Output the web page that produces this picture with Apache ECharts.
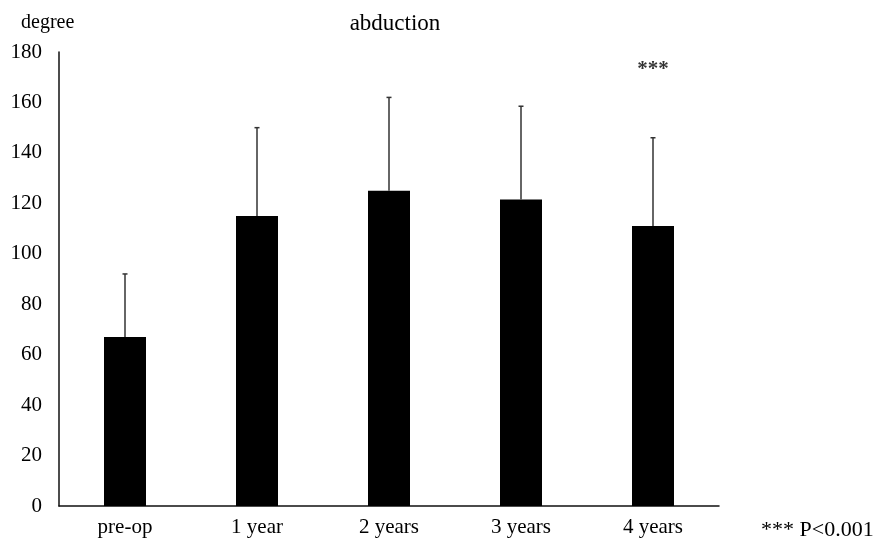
<!DOCTYPE html>
<html>
<head>
<meta charset="utf-8">
<script src="https://cdn.jsdelivr.net/npm/echarts@6/dist/echarts.min.js"></script>
<style>html,body{margin:0;padding:0;background:#fff;}#c{width:875px;height:539px;}</style>
</head>
<body>
<div id="c"></div>
<script>
const categories = ['pre-op', '1 year', '2 years', '3 years', '4 years'];
const means = [67, 115, 125, 121.5, 111];
const sds = [25, 35, 37, 37, 35];
const yTicks = [0, 20, 40, 60, 80, 100, 120, 140, 160, 180];
const sigLabel = '***';
const sigIndex = 4;
const sigValue = 173;

const FONT = 'Liberation Serif';
const chart = echarts.init(document.getElementById('c'));
const errData = categories.map((c, i) => [i, means[i], means[i] + sds[i]]);

chart.setOption({
  animation: false,
  backgroundColor: '#fff',
  grid: { left: 59, right: 156, top: 52, bottom: 33 },
  title: [
    { text: 'abduction', left: 390, top: 7, textAlign: 'center',
      textStyle: { fontFamily: FONT, fontSize: 23, fontWeight: 'normal', color: '#000' } },
    { text: 'degree', left: 16, top: 8,
      textStyle: { fontFamily: FONT, fontSize: 20, fontWeight: 'normal', color: '#000' } },
    { text: '*** P<0.001', left: 756, top: 514,
      textStyle: { fontFamily: FONT, fontSize: 22, fontWeight: 'normal', color: '#000' } }
  ],
  xAxis: {
    type: 'category',
    data: categories,
    axisLine: { lineStyle: { color: '#111', width: 1.5 } },
    axisTick: { show: false },
    axisLabel: { fontFamily: FONT, fontSize: 21, color: '#000', margin: 11 },
    splitLine: { show: false }
  },
  yAxis: {
    type: 'value',
    min: yTicks[0],
    max: yTicks[yTicks.length - 1],
    interval: 20,
    axisLine: { show: true, lineStyle: { color: '#111', width: 1.5 } },
    axisTick: { show: false },
    axisLabel: { fontFamily: FONT, fontSize: 21, color: '#000', margin: 17 },
    splitLine: { show: false }
  },
  series: [
    {
      type: 'bar',
      data: means,
      barWidth: 42,
      itemStyle: { color: '#000' },
      z: 2
    },
    {
      type: 'custom',
      data: errData,
      z: 3,
      renderItem: function (params, api) {
        const x = api.value(0);
        const base = api.coord([x, api.value(1)]);
        const top = api.coord([x, api.value(2)]);
        return {
          type: 'group',
          children: [
            { type: 'line', shape: { x1: base[0], y1: base[1], x2: top[0], y2: top[1] },
              style: { stroke: '#333', lineWidth: 1.5 } },
            { type: 'line', shape: { x1: top[0] - 2.5, y1: top[1], x2: top[0] + 2.5, y2: top[1] },
              style: { stroke: '#333', lineWidth: 1.5 } }
          ]
        };
      }
    },
    {
      type: 'scatter',
      data: [[sigIndex, sigValue]],
      symbolSize: 0,
      label: { show: true, position: 'inside', formatter: sigLabel,
        fontFamily: FONT, fontSize: 21, fontWeight: 'bold', color: '#000' }
    }
  ]
});
</script>
</body>
</html>
